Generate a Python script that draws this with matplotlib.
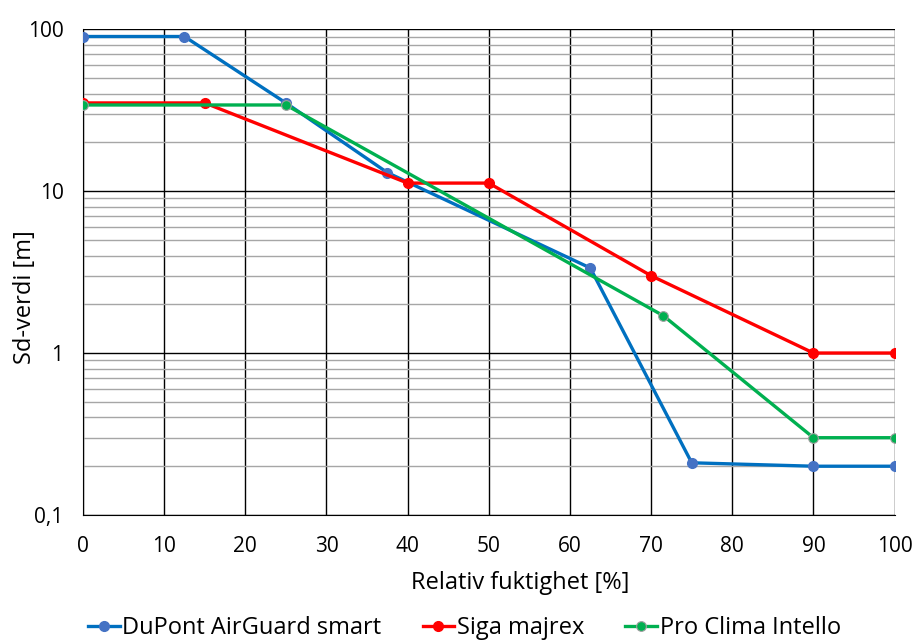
import matplotlib.pyplot as plt
from matplotlib.ticker import FixedLocator, LogLocator, NullFormatter

plt.rcParams['font.family'] = ['Open Sans', 'DejaVu Sans']

# data
dupont_x = [0, 12.5, 25, 37.5, 62.5, 75, 90, 100]
dupont_y = [90, 90, 35, 13, 3.35, 0.21, 0.2, 0.2]

siga_x = [0, 15, 40, 50, 70, 90, 100]
siga_y = [35, 35, 11.2, 11.2, 3.0, 1.0, 1.0]

intello_x = [0, 25, 71.5, 90, 100]
intello_y = [34, 34, 1.7, 0.3, 0.3]

y_ticks = [0.1, 1, 10, 100]
y_labels = ["0,1", "1", "10", "100"]

fig = plt.figure(figsize=(9.14, 6.41), dpi=100)
ax = fig.add_axes([0.0908, 0.1966, 0.888, 0.758])

ax.plot(dupont_x, dupont_y, color="#0070C0", lw=2.4, marker="o", ms=7,
        mfc="#4472C4", mec="#4472C4", label="DuPont AirGuard smart", zorder=3)
ax.plot(siga_x, siga_y, color="#FF0000", lw=2.4, marker="o", ms=7,
        mfc="#FF0000", mec="#FF0000", label="Siga majrex", zorder=3)
ax.plot(intello_x, intello_y, color="#00B050", lw=2.4, marker="o", ms=7,
        mfc="#00B050", mec="#A0A0A0", mew=0.8, label="Pro Clima Intello", zorder=3)

ax.set_yscale("log")
ax.set_ylim(0.1, 100)
ax.set_xlim(0, 100)
ax.set_xticks(range(0, 101, 10))
ax.yaxis.set_major_locator(FixedLocator(y_ticks))
ax.set_yticklabels(y_labels)
ax.yaxis.set_minor_locator(LogLocator(base=10, subs=range(2, 10)))
ax.yaxis.set_minor_formatter(NullFormatter())

ax.grid(True, which="major", axis="both", color="black", lw=1.0)
ax.grid(True, which="minor", axis="y", color="#A6A6A6", lw=1.0)
ax.set_axisbelow(True)

for s in ["top", "right"]:
    ax.spines[s].set_visible(False)
ax.spines["left"].set_color("black")
ax.spines["bottom"].set_color("black")

ax.tick_params(which="both", length=0, labelsize=15)
ax.tick_params(axis="x", pad=15)
ax.tick_params(axis="y", pad=14)

ax.set_xlabel("Relativ fuktighet [%]", fontsize=17)
ax.xaxis.set_label_coords(0.539, -0.14)
ax.xaxis.label.set_va("center")
ax.set_ylabel("Sd-verdi [m]", fontsize=17)
ax.yaxis.set_label_coords(-0.0714, 0.449)
ax.yaxis.label.set_va("center")

fig.legend(loc="center", bbox_to_anchor=(0.508, 0.02), ncol=3,
           frameon=False, fontsize=17, columnspacing=1.75, handlelength=1.35,
           handletextpad=0.1)

fig.savefig("out.png", dpi=100)
